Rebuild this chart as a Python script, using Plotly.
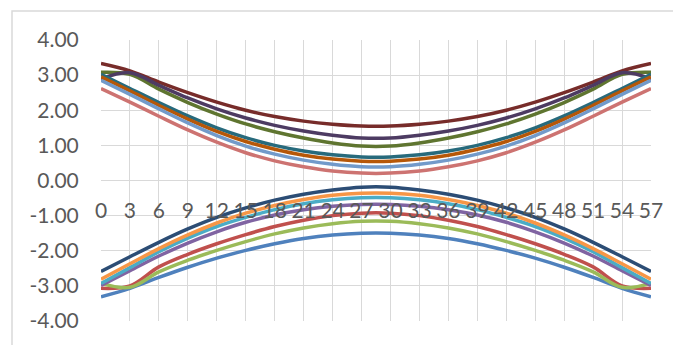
import plotly.graph_objects as go

x_vals = list(range(0, 58, 3))

def mirror(half):
    return half + half[::-1]

# Upper group (left half read at x=0..27, right half mirrors the picture)
dark_red = mirror([3.33, 3.12, 2.80, 2.50, 2.23, 2.00, 1.82, 1.69, 1.60, 1.55])
dark_purple = mirror([2.89, 3.07, 2.71, 2.35, 2.04, 1.78, 1.57, 1.41, 1.29, 1.21])
dark_green = mirror([3.08, 3.02, 2.60, 2.22, 1.89, 1.61, 1.39, 1.21, 1.07, 0.98])
teal = mirror([3.02, 2.62, 2.22, 1.84, 1.50, 1.22, 1.00, 0.84, 0.73, 0.67])
dark_orange = mirror([2.95, 2.55, 2.14, 1.75, 1.40, 1.11, 0.89, 0.72, 0.61, 0.55])
light_blue = mirror([2.85, 2.45, 2.04, 1.64, 1.28, 0.98, 0.75, 0.58, 0.46, 0.39])
light_red = mirror([2.62, 2.23, 1.83, 1.44, 1.09, 0.79, 0.56, 0.39, 0.27, 0.21])

# Lower group
blue = mirror([-3.31, -3.07, -2.76, -2.47, -2.21, -1.99, -1.80, -1.65, -1.55, -1.50])
red = mirror([-3.07, -3.00, -2.46, -2.10, -1.80, -1.54, -1.31, -1.13, -1.00, -0.93])
green = mirror([-2.92, -3.04, -2.60, -2.27, -1.99, -1.74, -1.52, -1.35, -1.23, -1.16])
purple = mirror([-2.99, -2.57, -2.15, -1.78, -1.46, -1.19, -0.98, -0.83, -0.73, -0.68])
aqua = mirror([-2.93, -2.48, -2.03, -1.64, -1.31, -1.05, -0.83, -0.66, -0.55, -0.49])
orange = mirror([-2.81, -2.37, -1.94, -1.55, -1.21, -0.93, -0.71, -0.54, -0.42, -0.36])
dark_blue = mirror([-2.59, -2.17, -1.76, -1.38, -1.05, -0.78, -0.56, -0.39, -0.27, -0.19])

series = [
    (blue, "#4F81BD"), (red, "#C0504D"), (green, "#9BBB59"), (purple, "#8064A2"),
    (aqua, "#4BACC6"), (orange, "#F79646"), (dark_blue, "#2C4D75"),
    (dark_red, "#772C2A"), (dark_green, "#5F7530"), (dark_purple, "#4D3B62"),
    (teal, "#276A7C"), (dark_orange, "#B65708"), (light_blue, "#729ACA"),
    (light_red, "#CD7371"),
]

y_ticks = [-4, -3, -2, -1, 0, 1, 2, 3, 4]
y_labels = ["-4.00", "-3.00", "-2.00", "-1.00", "0.00", "1.00", "2.00", "3.00", "4.00"]
x_ticks = list(range(0, 58, 3))
x_labels = [str(v) for v in x_ticks]

fig = go.Figure()
for ys, col in series:
    fig.add_trace(go.Scatter(x=x_vals, y=ys, mode="lines",
                             line=dict(color=col, width=3.5, shape="spline", smoothing=1),
                             showlegend=False, hoverinfo="skip"))

font = dict(family="Lato, Liberation Sans, sans-serif", size=21, color="#595959")

# page body adds an 8px offset; margins compensate so the plot area sits at x 101-651, y 40-321
fig.update_layout(
    width=681, height=345,
    margin=dict(l=93, r=38, t=32, b=32),
    paper_bgcolor="white", plot_bgcolor="white",
    font=font,
    xaxis=dict(range=[0, 57], tickvals=x_ticks, ticktext=x_labels,
               showgrid=True, gridcolor="#D9D9D9", gridwidth=1.3,
               zeroline=False, showline=False,
               anchor="free", position=0.5,
               ticks="outside", ticklen=11, tickcolor="rgba(0,0,0,0)",
               tickfont=font),
    yaxis=dict(range=[-4, 4], tickvals=y_ticks, ticktext=y_labels,
               showgrid=True, gridcolor="#D9D9D9", gridwidth=1.3,
               zeroline=False, showline=False,
               ticks="outside", ticklen=17, tickcolor="rgba(0,0,0,0)",
               tickfont=font),
    shapes=[dict(type="rect", xref="paper", yref="paper",
                 x0=-0.1618, x1=1.2, y0=-0.3, y1=1.1032,
                 line=dict(color="#D9D9D9", width=1.5), fillcolor="rgba(0,0,0,0)",
                 layer="below")],
)

fig.write_html("out.html")
